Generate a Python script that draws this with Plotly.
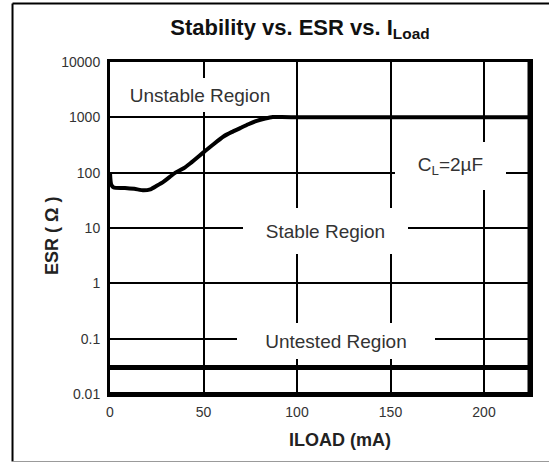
import plotly.graph_objects as go

# ---- data ----
iload_ma = [0, 0.6, 2, 8, 13, 18, 21.6, 25, 28.7, 32, 35, 39.4, 43, 50, 55, 60.7, 65, 69.6, 74, 78.5, 83, 87, 92, 100, 225]
esr_ohm = [100, 62, 54, 53, 51, 48, 50, 58, 69, 84, 100, 120, 148, 233, 320, 450, 540, 638, 750, 865, 950, 1010, 1010, 1000, 1000]

untested_x = [0, 225]
untested_esr = [0.03, 0.03]

x_ticks = [0, 50, 100, 150, 200]
x_ticktext = ["0", "50", "100", "150", "200"]
y_ticks = [0.01, 0.1, 1, 10, 100, 1000, 10000]
y_ticktext = ["0.01", "0.1", "1", "10", "100", "1000", "10000"]

FONT = "Liberation Sans, Arial, sans-serif"

fig = go.Figure()
fig.add_trace(go.Scatter(x=untested_x, y=untested_esr, mode="lines",
                         line=dict(color="black", width=5), showlegend=False, hoverinfo="skip"))
fig.add_trace(go.Scatter(x=iload_ma, y=esr_ohm, mode="lines", line_shape="spline",
                         line=dict(color="black", width=4, smoothing=0.6), showlegend=False))

def box_label(text, x, ylog, w, h):
    fig.add_annotation(x=x, y=ylog, xref="x", yref="y", text=text, showarrow=False,
                       font=dict(family=FONT, size=19, color="#333"),
                       bgcolor="white", width=w, height=h, borderpad=0, borderwidth=0,
                       xanchor="center", yanchor="middle")

box_label("Unstable Region", 48.1, 3.404, 176, 34)
box_label("C<sub>L</sub>=2µF", 182.1, 2.12, 111, 48)
box_label("Stable Region", 115.2, 0.946, 165, 46)
box_label("Untested Region", 120.9, -1.043, 198, 36)

# axis titles
fig.add_annotation(x=-0.138, y=0.476, xref="paper", yref="paper", text="<b>ESR ( Ω )</b>",
                   textangle=-90, showarrow=False, xanchor="center", yanchor="middle",
                   font=dict(family=FONT, size=18, color="#222"))
fig.add_annotation(x=0.5476, y=-0.1386, xref="paper", yref="paper", text="<b>ILOAD (mA)</b>",
                   showarrow=False, xanchor="center", yanchor="middle",
                   font=dict(family=FONT, size=18, color="#222"))

# outer frame
fig.add_shape(type="line", xref="paper", yref="paper", x0=-0.2321, x1=-0.2321, y0=-0.2033, y1=1.1762,
              line=dict(color="black", width=2))
fig.add_shape(type="line", xref="paper", yref="paper", x0=-0.2321, x1=1.1, y0=1.1762, y1=1.1762,
              line=dict(color="black", width=2))
fig.add_shape(type="line", xref="paper", yref="paper", x0=-0.2321, x1=1.1, y0=-0.2033, y1=-0.2033,
              line=dict(color="#999", width=1))
# thicker right/bottom plot border
fig.add_shape(type="line", xref="paper", yref="paper", x0=1, x1=1, y0=0, y1=1,
              line=dict(color="black", width=5))
fig.add_shape(type="line", xref="paper", yref="paper", x0=0, x1=1, y0=0, y1=0,
              line=dict(color="black", width=4))

fig.update_layout(
    width=549, height=463,
    margin=dict(l=110, r=19, t=62, b=69),
    paper_bgcolor="white", plot_bgcolor="white",
    title=dict(text="<b>Stability vs. ESR vs. I<sub>Load</sub></b>", x=0.5464, xanchor="center",
               y=0.942, yanchor="middle", font=dict(family=FONT, size=22, color="#111")),
    xaxis=dict(range=[0, 224.6], tickmode="array", tickvals=x_ticks, ticktext=x_ticktext,
               showgrid=True, gridcolor="black", gridwidth=2, showline=True, linecolor="black",
               linewidth=3, mirror=True, ticks="", zeroline=False, ticklabelstandoff=3,
               tickfont=dict(family=FONT, size=14, color="#333")),
    yaxis=dict(type="log", range=[-2, 4], tickmode="array", tickvals=y_ticks, ticktext=y_ticktext,
               showgrid=True, gridcolor="black", gridwidth=2, showline=True, linecolor="black",
               linewidth=3, mirror=True, ticks="", zeroline=False, ticklabelstandoff=4,
               tickfont=dict(family=FONT, size=14, color="#333")),
)

fig.write_html("out.html")
